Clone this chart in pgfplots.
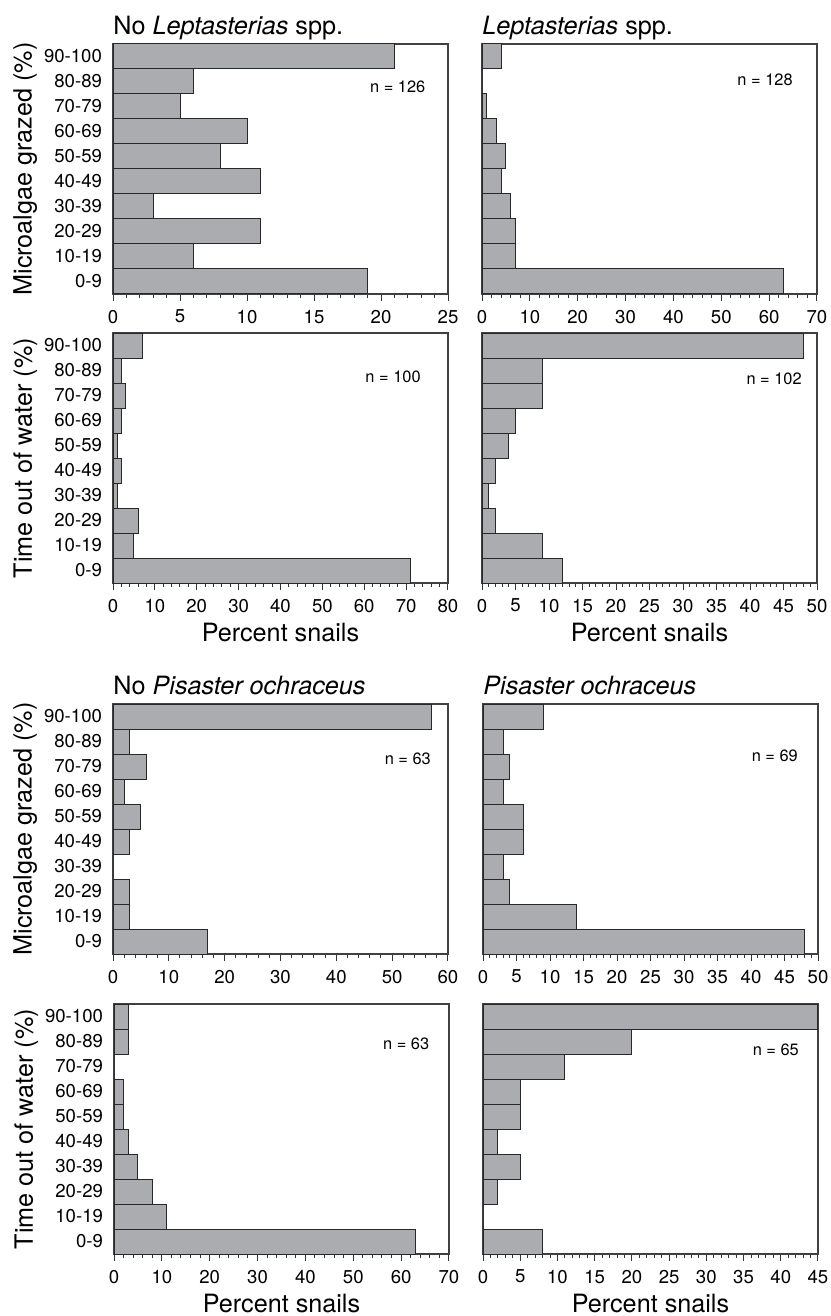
\documentclass[border=0pt]{standalone}
\usepackage{fontspec}
\setmainfont{TeX Gyre Heros}
\usepackage{pgfplots}
\pgfplotsset{compat=1.18}
\definecolor{barGray}{RGB}{171,172,176}
\definecolor{edgeGray}{RGB}{40,40,40}

\pgfplotsset{
  snail/.style={
    xbar, bar width=1, bar shift=0pt,
    scale only axis, width=167.5pt, height=125pt,
    anchor=north west,
    xmin=0, ymin=-0.5, ymax=9.5,
    ytick={0,...,9}, yticklabels={},
    major y tick style={draw=none},
    axis line style={black!75, line width=0.6pt},
    tick align=outside, xtick pos=bottom, ytick pos=left,
    major tick length=3.5pt, minor tick length=1.8pt,
    x tick style={black!80, line width=0.5pt},
    minor x tick num=4,
    tick label style={font=\fontsize{9.3}{10}\selectfont},
    /pgf/number format/assume math mode=true,
    xticklabel style={yshift=-1pt},
    yticklabel style={xshift=1.5pt},
    label style={font=\fontsize{12.6}{14}\selectfont},
    ylabel style={at={(axis description cs:-0.262,0.5)}, anchor=center},
    xlabel style={at={(axis description cs:0.5,0)}, anchor=center, yshift=-24.5pt},
    title style={at={(axis description cs:0,1)}, anchor=base west, inner sep=0pt,
      yshift=-1.2pt, font=\fontsize{12.6}{14}\selectfont},
    every axis plot post/.append style={fill=barGray, draw=edgeGray, line width=0.5pt},
  },
  leftcol/.style={yticklabels={0-9,10-19,20-29,30-39,40-49,50-59,60-69,70-79,80-89,90-100}},
}
\tikzset{nlab/.style={font=\fontsize{8.2}{9}\selectfont, anchor=center}}

\begin{document}
\begin{tikzpicture}
\path[use as bounding box] (0,0) rectangle (415pt,-658pt);

% row 1: microalgae grazed, Leptasterias
\begin{axis}[snail, leftcol, at={(56.5pt,-22pt)}, xmax=25, xtick={0,5,...,25},
  title={No \textit{Leptasterias} spp.}, ylabel={Microalgae grazed (\%)}]
\addplot coordinates {(19,0) (6,1) (11,2) (3,3) (11,4) (8,5) (10,6) (5,7) (6,8) (21,9)};
\node[nlab] at (rel axis cs:0.85,0.83) {n = 126};
\end{axis}

\begin{axis}[snail, at={(241pt,-22pt)}, xmax=70, xtick={0,10,...,70},
  title={\textit{Leptasterias} spp.}]
\addplot coordinates {(63,0) (7,1) (7,2) (6,3) (4,4) (5,5) (3,6) (1,7) (0,8) (4,9)};
\node[nlab] at (rel axis cs:0.845,0.855) {n = 128};
\end{axis}

% row 2: time out of water, Leptasterias
\begin{axis}[snail, leftcol, at={(56.5pt,-166.5pt)}, xmax=80, xtick={0,10,...,80},
  ylabel={Time out of water (\%)}, xlabel={Percent snails}]
\addplot coordinates {(71,0) (5,1) (6,2) (1,3) (2,4) (1,5) (2,6) (3,7) (2,8) (7,9)};
\node[nlab] at (rel axis cs:0.836,0.824) {n = 100};
\end{axis}

\begin{axis}[snail, at={(241pt,-166.5pt)}, xmax=50, xtick={0,5,...,50},
  xlabel={Percent snails}]
\addplot coordinates {(12,0) (9,1) (2,2) (1,3) (2,4) (4,5) (5,6) (9,7) (9,8) (48,9)};
\node[nlab] at (rel axis cs:0.872,0.815) {n = 102};
\end{axis}

% row 3: microalgae grazed, Pisaster
\begin{axis}[snail, leftcol, at={(56.5pt,-352pt)}, xmax=60, xtick={0,10,...,60},
  title={No \textit{Pisaster ochraceus}}, ylabel={Microalgae grazed (\%)}]
\addplot coordinates {(17,0) (3,1) (3,2) (0,3) (3,4) (5,5) (2,6) (6,7) (3,8) (57,9)};
\node[nlab] at (rel axis cs:0.88,0.78) {n = 63};
\end{axis}

\begin{axis}[snail, at={(241.5pt,-352pt)}, xmax=50, xtick={0,5,...,50},
  title={\textit{Pisaster ochraceus}}]
\addplot coordinates {(48,0) (14,1) (4,2) (3,3) (6,4) (6,5) (3,6) (4,7) (3,8) (9,9)};
\node[nlab] at (rel axis cs:0.871,0.792) {n = 69};
\end{axis}

% row 4: time out of water, Pisaster
\begin{axis}[snail, leftcol, at={(57pt,-502pt)}, xmax=70, xtick={0,10,...,70},
  ylabel={Time out of water (\%)}, xlabel={Percent snails}]
\addplot coordinates {(63,0) (11,1) (8,2) (5,3) (3,4) (2,5) (2,6) (0,7) (3,8) (3,9)};
\node[nlab] at (rel axis cs:0.872,0.84) {n = 63};
\end{axis}

\begin{axis}[snail, at={(241.5pt,-502pt)}, xmax=45, xtick={0,5,...,45},
  xlabel={Percent snails}]
\addplot coordinates {(8,0) (0,1) (2,2) (5,3) (2,4) (5,5) (5,6) (11,7) (20,8) (45,9)};
\node[nlab] at (rel axis cs:0.874,0.817) {n = 65};
\end{axis}
\end{tikzpicture}
\end{document}
